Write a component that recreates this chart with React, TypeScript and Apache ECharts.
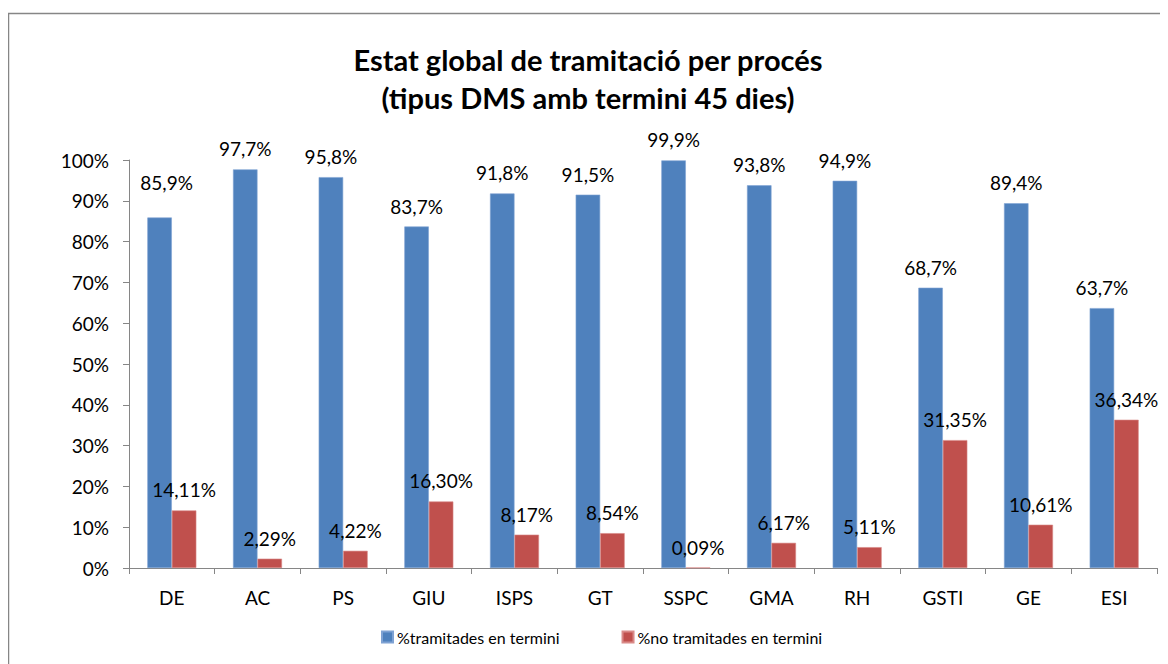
import React, { useEffect, useRef } from "react";
import * as echarts from "echarts";

const categories = ["DE", "AC", "PS", "GIU", "ISPS", "GT", "SSPC", "GMA", "RH", "GSTI", "GE", "ESI"];
const tramitades = [85.9, 97.7, 95.8, 83.7, 91.8, 91.5, 99.9, 93.8, 94.9, 68.7, 89.4, 63.7];
const noTramitades = [14.11, 2.29, 4.22, 16.3, 8.17, 8.54, 0.09, 6.17, 5.11, 31.35, 10.61, 36.34];
const seriesNames = ["%tramitades en termini", "%no tramitades en termini"];
const titleLines = ["Estat global de tramitació per procés", "(tipus DMS amb termini 45 dies)"];

const FONT = "Lato";

const fmt = (v: number, d: number) => v.toFixed(d).replace(".", ",") + "%";

export default function App() {
  const ref = useRef<HTMLDivElement>(null);
  useEffect(() => {
    if (!ref.current) return;
    const chart = echarts.init(ref.current, undefined, { renderer: "svg" });
    const labelBase = {
      show: true,
      position: "top" as const,
      distance: 11,
      color: "#000",
      fontFamily: FONT,
      fontSize: 19,
    };
    chart.setOption({
      animation: false,
      backgroundColor: "#fff",
      textStyle: { fontFamily: FONT },
      title: {
        text: titleLines.join("\n"),
        left: "center",
        top: 27,
        textStyle: {
          fontFamily: FONT,
          fontWeight: "bold",
          fontSize: 29,
          lineHeight: 38,
          color: "#000",
        },
      },
      graphic: [
        {
          type: "rect",
          shape: { x: 0.5, y: 5.5, width: 1300, height: 800 },
          style: { fill: "none", stroke: "#868686", lineWidth: 1.5 },
          silent: true,
        },
      ],
      legend: {
        left: 368,
        top: 616,
        itemWidth: 11,
        itemHeight: 11,
        itemGap: 62,
        icon: "rect",
        textStyle: { fontFamily: FONT, fontSize: 16, color: "#000", padding: [0, 0, 0, -1] },
        data: seriesNames,
      },
      grid: { left: 121, right: 11, top: 152, bottom: 96, containLabel: false },
      xAxis: {
        type: "category",
        data: categories,
        axisLine: { lineStyle: { color: "#868686", width: 1 } },
        axisTick: { show: true, length: 6, alignWithLabel: false, lineStyle: { color: "#868686" } },
        axisLabel: { color: "#000", fontFamily: FONT, fontSize: 19, margin: 20 },
      },
      yAxis: {
        type: "value",
        min: 0,
        max: 100,
        interval: 10,
        axisLine: { show: true, lineStyle: { color: "#868686", width: 1 } },
        axisTick: { show: true, length: 6, lineStyle: { color: "#868686" } },
        splitLine: { show: false },
        axisLabel: {
          color: "#000",
          fontFamily: FONT,
          fontSize: 19,
          margin: 20,
          formatter: "{value}%",
        },
      },
      series: [
        {
          name: seriesNames[0],
          type: "bar",
          barWidth: 24.5,
          barGap: "0%",
          itemStyle: { color: "#4F81BD", borderColor: "#7FA2D3", borderWidth: 0.6 },
          label: { ...labelBase, formatter: (p: any) => fmt(p.value, 1) },
          data: tramitades.map((v, i) =>
            i === 0 ? { value: v, label: { offset: [7, -15] } } : v
          ),
        },
        {
          name: seriesNames[1],
          type: "bar",
          barWidth: 24.5,
          barGap: "0%",
          itemStyle: { color: "#C0504D", borderColor: "#D98A88", borderWidth: 0.6 },
          label: { ...labelBase, formatter: (p: any) => fmt(p.value, 2) },
          data: noTramitades,
        },
      ],
    });
    return () => chart.dispose();
  }, []);
  return <div ref={ref} style={{ width: 1160, height: 656 }} />;
}
